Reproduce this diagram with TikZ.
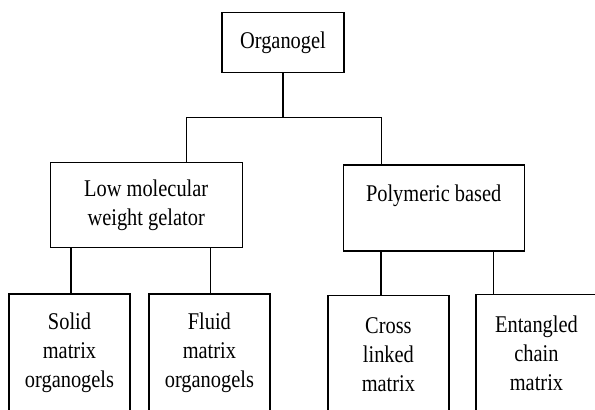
\documentclass[tikz,border=0pt]{standalone}
\usepackage{fontspec}
\setmainfont[FakeStretch=0.85]{Liberation Serif}

\begin{document}
\begin{tikzpicture}[x=1pt,y=1pt,line width=1.4pt,
		box/.style={draw,align=center,inner sep=0pt,font=\fontsize{24}{29}\selectfont},
		leaf/.style={box,minimum width=121pt,minimum height=118pt}]
		% 边界
		\clip (0,0) rectangle (595,-410);
		
		\node[box,minimum width=122pt,minimum height=60pt] (org) at (283,-42.7) {Organogel};
		\node[box,minimum width=192pt,minimum height=85pt] (low) at (146.2,-205) {Low molecular\\weight gelator};
		\node[box,minimum width=181pt,minimum height=86pt] (poly) at (433.7,-207.9) {Polymeric based\\\mbox{}};
		\node[leaf] (solid) at (69.5,-353) {Solid\\matrix\\organogels};
		\node[leaf] (fluid) at (209.4,-353) {Fluid\\matrix\\organogels};
		\node[leaf] (cross) at (388.4,-354.5) {Cross\\linked\\matrix};
		\node[leaf] (ent) at (536.5,-353.5) {Entangled\\chain\\matrix};
		
		\draw (org.south) -- ++(0,-44) coordinate (hub);
		\draw (hub) -| ([xshift=40pt]low.north);
		\draw (hub) -| ([xshift=-52pt]poly.north);
		\draw ([xshift=1.5pt]solid.north) -- ([xshift=1.5pt]solid.north |- low.south);
		\draw ([xshift=1.3pt]fluid.north) -- ([xshift=1.3pt]fluid.north |- low.south);
		\draw ([xshift=-7.4pt]cross.north) -- ([xshift=-7.4pt]cross.north |- poly.south);
		\draw ([xshift=-43.2pt]ent.north) -- ([xshift=-43.2pt]ent.north |- poly.south);
\end{tikzpicture}
\end{document}
